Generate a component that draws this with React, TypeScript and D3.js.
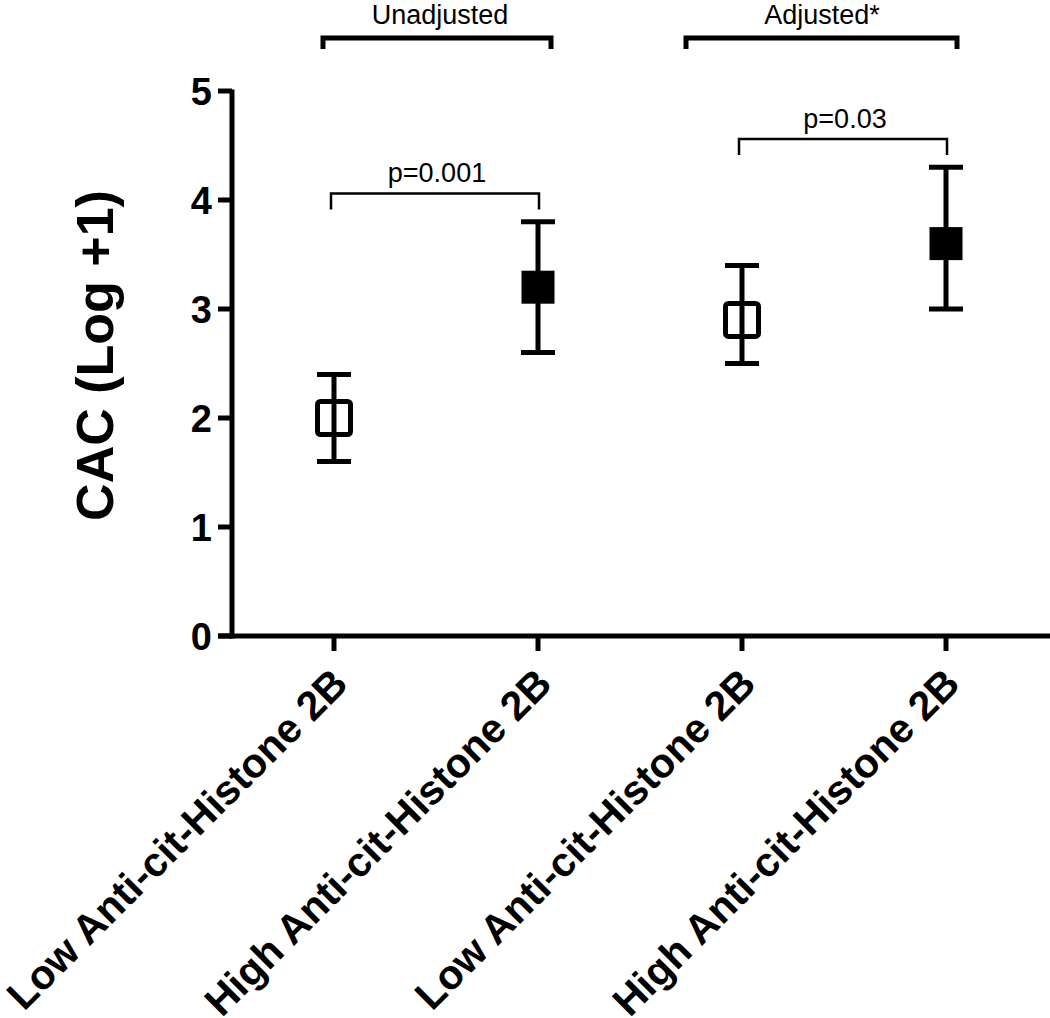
import React from "react";
import * as d3 from "d3";

const categories = [
  "Low Anti-cit-Histone 2B",
  "High Anti-cit-Histone 2B",
  "Low Anti-cit-Histone 2B",
  "High Anti-cit-Histone 2B",
];
const means = [2.0, 3.2, 2.9, 3.6];
const lowers = [1.6, 2.6, 2.5, 3.0];
const uppers = [2.4, 3.8, 3.4, 4.3];
const filled = [false, true, false, true];
const yTicks = [0, 1, 2, 3, 4, 5];
const comparisons = [
  { a: 0, b: 1, level: 4.06, label: "p=0.001" },
  { a: 2, b: 3, level: 4.56, label: "p=0.03" },
];
const groups = [
  { label: "Unadjusted", from: 0, to: 1, padL: 11, padR: 13, tx: 440 },
  { label: "Adjusted*", from: 2, to: 3, padL: 56, padR: 11, tx: 822 },
];

const W = 1050;
const H = 1018;
const FONT = "Arial, 'Liberation Sans', Helvetica, sans-serif";

export default function App() {
  const idx = categories.map((_, i) => String(i));
  const x = d3.scalePoint<string>().domain(idx).range([334, 946]);
  const y = d3.scaleLinear().domain([0, 5]).range([636, 91]);
  const axisX = 232;
  const axisY = y(0);
  const cap = 34;
  const sq = 33;

  return (
    <svg
      width={W}
      height={H}
      style={{ position: "absolute", left: 0, top: 0, background: "#fff" }}
      fontFamily={FONT}
    >
      <rect width={W} height={H} fill="#fff" />
      {groups.map((g, i) => {
        const x1 = (x(String(g.from)) as number) - g.padL;
        const x2 = (x(String(g.to)) as number) + g.padR;
        return (
          <g key={"g" + i}>
            <path
              d={`M${x1},49 V38 H${x2} V49`}
              fill="none"
              stroke="#000"
              strokeWidth={5}
            />
            <text x={g.tx} y={24} textAnchor="middle" fontSize={27}>
              {g.label}
            </text>
          </g>
        );
      })}
      {comparisons.map((c, i) => {
        const x1 = x(String(c.a)) as number;
        const x2 = x(String(c.b)) as number;
        const yy = y(c.level);
        return (
          <g key={"c" + i}>
            <path
              d={`M${x1 - 3},${yy + 16} V${yy} H${x2 + 1} V${yy + 16}`}
              fill="none"
              stroke="#000"
              strokeWidth={2.5}
            />
            <text
              x={(x1 + x2) / 2 + 1}
              y={yy - 11}
              textAnchor="middle"
              fontSize={27}
            >
              {c.label}
            </text>
          </g>
        );
      })}
      <line x1={axisX} x2={axisX} y1={y(5) - 1.5} y2={axisY + 2.5} stroke="#000" strokeWidth={5} />
      <line x1={218} x2={W} y1={axisY} y2={axisY} stroke="#000" strokeWidth={5} />
      {yTicks.map((t) => (
        <g key={"yt" + t}>
          <line x1={218} x2={axisX} y1={y(t)} y2={y(t)} stroke="#000" strokeWidth={5} />
          <text
            x={212}
            y={y(t)}
            dy="0.36em"
            textAnchor="end"
            fontSize={38}
            fontWeight="bold"
          >
            {t}
          </text>
        </g>
      ))}
      {idx.map((k, i) => {
        const cx = x(k) as number;
        return (
          <g key={"xt" + i}>
            <line x1={cx} x2={cx} y1={axisY} y2={axisY + 15} stroke="#000" strokeWidth={5} />
            <text
              transform={`translate(${cx + 16},${axisY + 50}) rotate(-45)`}
              textAnchor="end"
              fontSize={41}
              fontWeight="bold"
            >
              {categories[i]}
            </text>
          </g>
        );
      })}
      <text
        transform={`translate(113,${(y(0) + y(5)) / 2 - 8}) rotate(-90)`}
        textAnchor="middle"
        fontSize={52}
        fontWeight="bold"
      >
        CAC (Log +1)
      </text>
      {idx.map((k, i) => {
        const cx = x(k) as number;
        const yl = y(lowers[i]);
        const yu = y(uppers[i]);
        const ym = y(means[i]);
        return (
          <g key={"m" + i}>
            <line x1={cx} x2={cx} y1={yl} y2={yu} stroke="#000" strokeWidth={5} />
            <line x1={cx - cap / 2} x2={cx + cap / 2} y1={yl} y2={yl} stroke="#000" strokeWidth={5} />
            <line x1={cx - cap / 2} x2={cx + cap / 2} y1={yu} y2={yu} stroke="#000" strokeWidth={5} />
            {filled[i] ? (
              <rect x={cx - sq / 2} y={ym - sq / 2} width={sq} height={sq} fill="#000" />
            ) : (
              <rect
                x={cx - sq / 2}
                y={ym - sq / 2}
                width={sq}
                height={sq}
                rx={3}
                fill="none"
                stroke="#000"
                strokeWidth={5}
              />
            )}
          </g>
        );
      })}
    </svg>
  );
}
